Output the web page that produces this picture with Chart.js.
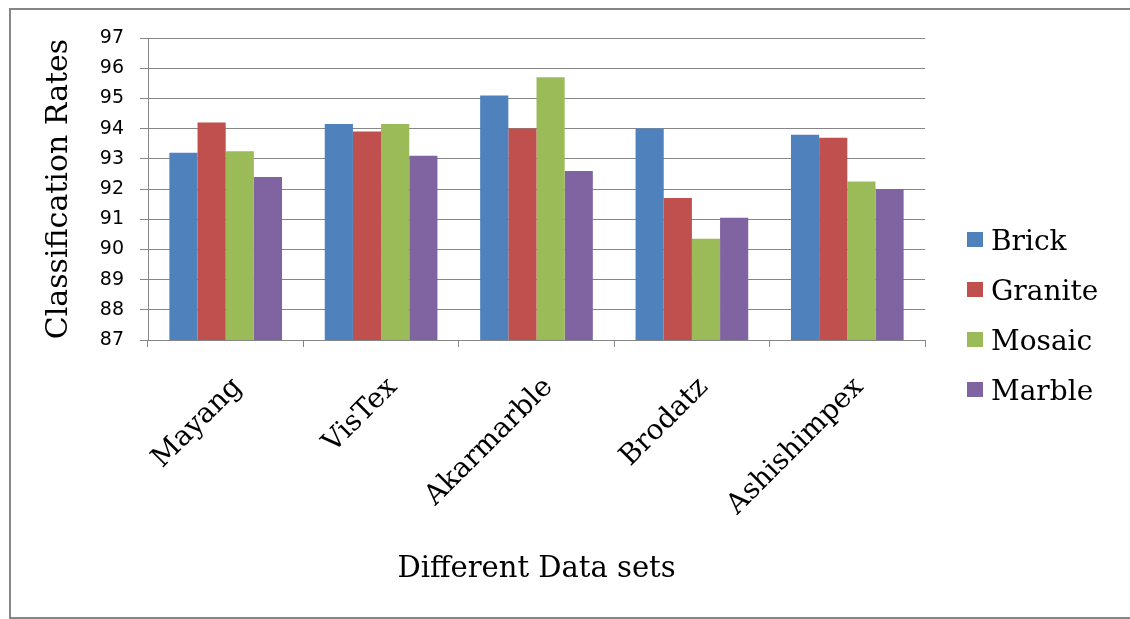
<!DOCTYPE html>
<html>
<head>
<meta charset="utf-8">
<script src="https://cdn.jsdelivr.net/npm/chart.js@4/dist/chart.umd.min.js"></script>
<style>
  html, body { margin: 0; padding: 0; background: #fff; }
  #wrap { width: 1130px; height: 619px; position: relative; }
</style>
</head>
<body>
<div id="wrap"><canvas id="chart" width="1130" height="619"></canvas></div>
<script>
// Classification rates per texture database
const categories = ['Mayang', 'VisTex', 'Akarmarble', 'Brodatz', 'Ashishimpex'];
const seriesNames = ['Brick', 'Granite', 'Mosaic', 'Marble'];
const brick   = [93.2, 94.15, 95.1, 94.0, 93.8];
const granite = [94.2, 93.9, 94.0, 91.7, 93.7];
const mosaic  = [93.25, 94.15, 95.7, 90.35, 92.25];
const marble  = [92.4, 93.1, 92.6, 91.05, 92.0];
const yMin = 87, yMax = 97, yStep = 1;

const seriesColors = ['#4F81BD', '#C0504D', '#9BBB59', '#8064A2'];
const seriesValues = [brick, granite, mosaic, marble];

const SERIF = '"DejaVu Serif", serif';
const SANS = '"DejaVu Sans", sans-serif';
const GRID = '#868686';

// Outer frame around the whole figure
const framePlugin = {
  id: 'frame',
  beforeDraw(chart) {
    const ctx = chart.ctx;
    ctx.save();
    ctx.strokeStyle = GRID;
    ctx.lineWidth = 2;
    ctx.beginPath();
    ctx.moveTo(1135, 9);
    ctx.lineTo(10, 9);
    ctx.lineTo(10, 618);
    ctx.lineTo(1135, 618);
    ctx.stroke();
    ctx.restore();
  }
};

// Legend stacked at the right, square swatches with serif labels
const sideLegend = {
  id: 'sideLegend',
  afterDraw(chart) {
    const ctx = chart.ctx;
    ctx.save();
    ctx.font = '28px ' + SERIF;
    ctx.textBaseline = 'alphabetic';
    ctx.textAlign = 'left';
    chart.data.datasets.forEach((ds, i) => {
      const top = 232 + i * 50;
      ctx.fillStyle = ds.backgroundColor;
      ctx.fillRect(967, top, 16, 15);
      ctx.fillStyle = '#000';
      ctx.fillText(ds.label, 991, top + 18);
    });
    ctx.restore();
  }
};

new Chart(document.getElementById('chart'), {
  type: 'bar',
  data: {
    labels: categories,
    datasets: seriesNames.map((name, i) => ({
      label: name,
      data: seriesValues[i],
      backgroundColor: seriesColors[i],
      borderWidth: 0,
      categoryPercentage: 0.725,
      barPercentage: 1.0
    }))
  },
  options: {
    responsive: false,
    animation: false,
    layout: { padding: { left: 12, right: 205, top: 38, bottom: 0 } },
    plugins: {
      legend: { display: false },
      tooltip: { enabled: false }
    },
    scales: {
      x: {
        grid: {
          display: true,
          drawOnChartArea: false,
          drawTicks: true,
          tickLength: 7,
          color: GRID,
          lineWidth: 1
        },
        border: { display: true, color: GRID, width: 1 },
        ticks: {
          autoSkip: false,
          minRotation: 45,
          maxRotation: 45,
          padding: 24,
          labelOffset: 12,
          color: '#000',
          font: { family: SERIF, size: 28 }
        },
        title: {
          display: true,
          text: 'Different Data sets',
          color: '#000',
          font: { family: SERIF, size: 29 },
          padding: { top: 0, bottom: 32 }
        },
        afterFit(scale) { scale.height = 279; }
      },
      y: {
        min: yMin,
        max: yMax,
        grid: {
          display: true,
          drawOnChartArea: true,
          drawTicks: true,
          tickLength: 8,
          color: GRID,
          lineWidth: 1
        },
        border: { display: true, color: GRID, width: 1 },
        ticks: {
          stepSize: yStep,
          padding: 16,
          color: '#000',
          font: { family: SANS, size: 19 }
        },
        title: {
          display: true,
          text: 'Classification Rates',
          color: '#000',
          font: { family: SERIF, size: 30 },
          padding: { top: 29, bottom: 0 }
        },
        afterFit(scale) { scale.width = 136; }
      }
    }
  },
  plugins: [framePlugin, sideLegend]
});
</script>
</body>
</html>
